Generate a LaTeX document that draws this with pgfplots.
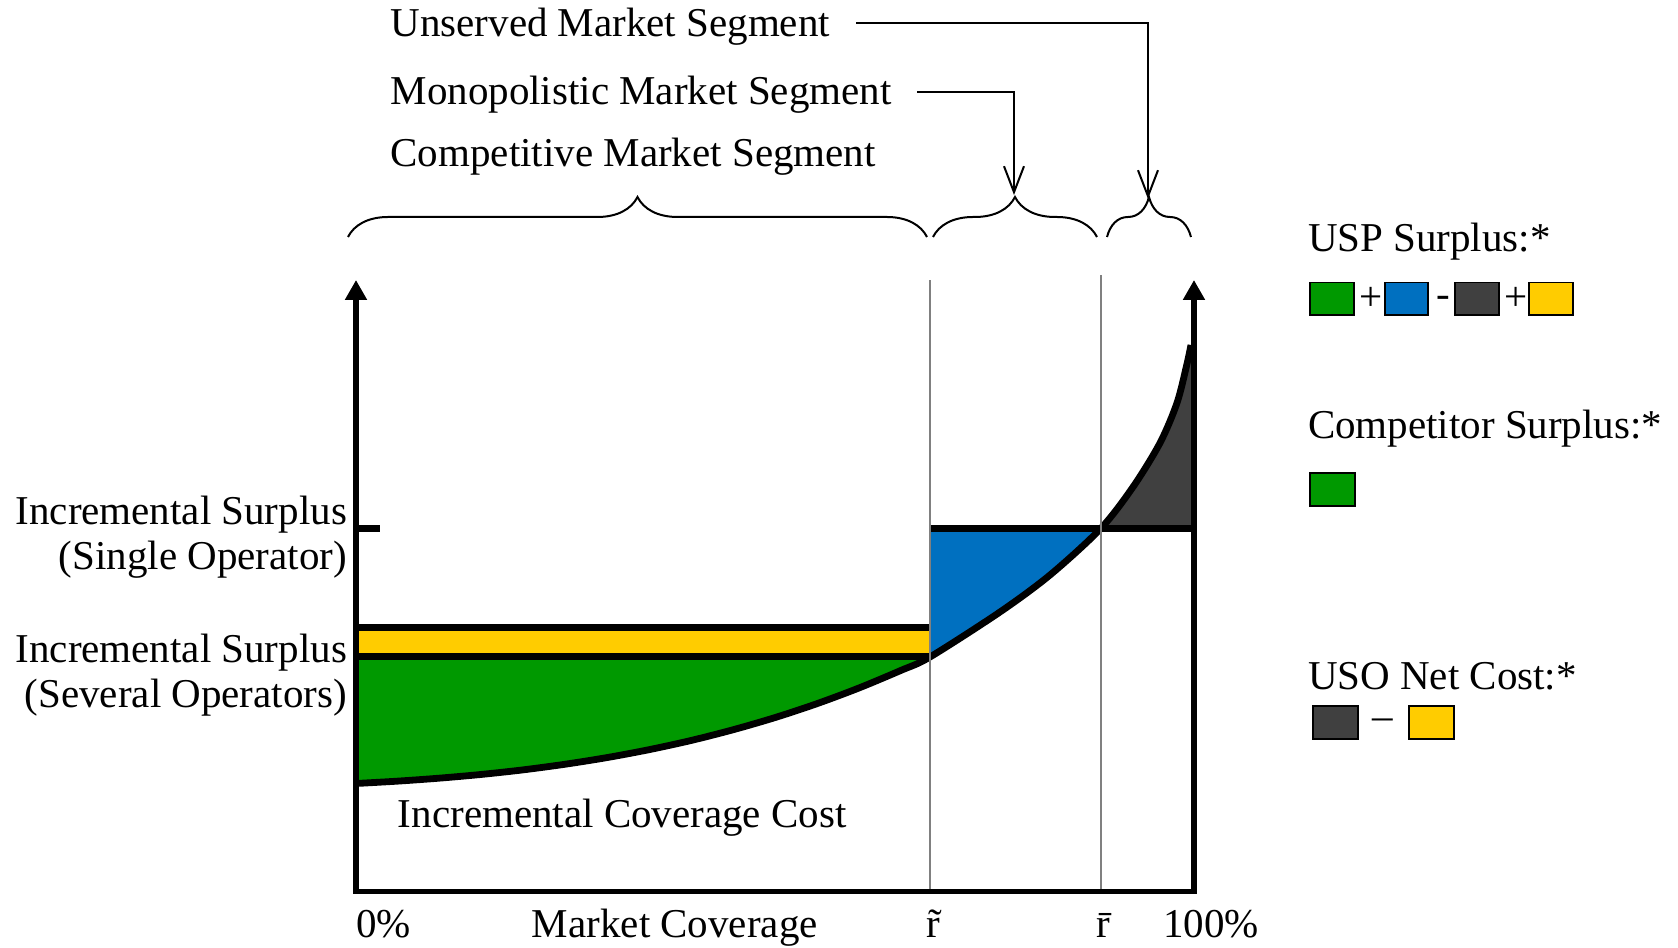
\documentclass[border=0pt]{standalone}
\usepackage{fontspec}
\setmainfont{Liberation Serif}
\usepackage{pgfplots}
\pgfplotsset{compat=1.18}
\usepackage{pgfplotstable}
\usepgfplotslibrary{fillbetween}
\usetikzlibrary{arrows.meta,decorations.pathreplacing}
\definecolor{cgreen}{HTML}{009900}
\definecolor{cblue}{HTML}{0070C0}
\definecolor{cgray}{HTML}{404040}
\definecolor{cyellow}{HTML}{FFCC00}
\pgfplotstableread{
x y
0 17.66
5 18.05
10 18.54
15 19.15
20 19.90
25 20.82
30 21.91
35 23.20
40 24.70
45 26.45
50 28.44
55 30.71
60 33.27
65 36.14
68.50 38.35
76.85 45.71
82.82 51.76
88.87 59.35
92.72 66.15
95.94 73.34
97.97 79.89
99.16 86.26
99.64 89.37
}\curvetab
\begin{document}
\begin{tikzpicture}[font=\fontsize{20.5}{24}\selectfont]
\begin{axis}[scale only axis, width=419pt, height=305.75pt,
  xmin=0, xmax=100, ymin=0, ymax=100, axis lines=none, ticks=none,
  clip=false, at={(0,0)}, anchor=south west]
\addplot[draw=none, name path=curve, smooth] table {\curvetab};
\addplot[draw=none, name path=sev] coordinates {(0,38.35) (68.5,38.35)};
\addplot[draw=none, name path=single] coordinates {(68.5,59.35) (100,59.35)};
\addplot[fill=cgreen, draw=none] fill between[of=curve and sev, soft clip={domain=0:68.5}];
\addplot[fill=cblue, draw=none] fill between[of=curve and single, soft clip={domain=68.5:88.87}];
\addplot[fill=cgray, draw=none] fill between[of=curve and single, soft clip={domain=88.87:100}];
\addplot[fill=cyellow, draw=none] coordinates {(0,38.35) (68.5,38.35) (68.5,43.25) (0,43.25)} -- cycle;
% black level lines
\addplot[black, line width=3.5pt] coordinates {(0,43.25) (68.5,43.25)};
\addplot[black, line width=3.5pt] coordinates {(0,38.35) (68.5,38.35)};
\addplot[black, line width=3.5pt] coordinates {(68.5,59.35) (100,59.35)};
\addplot[black, line width=3.5pt] coordinates {(0,59.35) (2.86,59.35)};
% cost curve
\addplot[black, line width=3.4pt, smooth] table {\curvetab};
% thresholds
\addplot[gray, line width=0.8pt] coordinates {(68.5,0) (68.5,100)};
\addplot[gray, line width=0.8pt] coordinates {(88.87,0) (88.87,100.8)};
% axes
\addplot[black, line width=2.8pt, line join=miter,
  {Triangle[length=10pt,width=10.5pt]}-{Triangle[length=10pt,width=10.5pt]}]
  coordinates {(0,100) (0,0) (100,0) (100,100)};
\end{axis}
\path[use as bounding box] (-178pt,-28.25pt) rectangle (661pt,445.75pt);
\begin{scope}[shift={(-178pt,445.75pt)}, x=0.5pt, y=-0.5pt]
\tikzset{every node/.style={inner sep=0pt, outer sep=0pt}}
\node[anchor=base west] at (390.6,36.4) {Unserved Market Segment};
\node[anchor=base west] at (390.6,104.9) {Monopolistic Market Segment};
\node[anchor=base west] at (390.6,167) {Competitive Market Segment};
\node[anchor=base east] at (347,525) {Incremental Surplus};
\node[anchor=base east] at (347,570) {(Single Operator)};
\node[anchor=base east] at (347,663) {Incremental Surplus};
\node[anchor=base east] at (347,708) {(Several Operators)};
\node[anchor=base west] at (398,828) {Incremental Coverage Cost};
\node[anchor=base west] at (356.5,938) {0\%};
\node[anchor=base west] at (532,938) {Market Coverage};
\node[anchor=base] at (933,938) {\~{r}};
\node[anchor=base] at (1103,938) {\={r}};
\node[anchor=base west] at (1163,938) {100\%};
\node[anchor=base west] at (1308,252) {USP Surplus:*};
\node[anchor=base west] at (1308,439) {Competitor Surplus:*};
\node[anchor=base west] at (1308,690) {USO Net Cost:*};
% swatches
\begin{scope}[line width=0.75pt]
\filldraw[fill=cgreen, draw=black] (1310,282.5) rectangle (1354,315);
\node at (1371,299) {+};
\filldraw[fill=cblue, draw=black] (1385,282.5) rectangle (1428,315);
\node at (1443,302) {-};
\filldraw[fill=cgray, draw=black] (1455,282.5) rectangle (1499,315);
\node at (1516.5,299) {+};
\filldraw[fill=cyellow, draw=black] (1529,282.5) rectangle (1573,315);
\filldraw[fill=cgreen, draw=black] (1310,473) rectangle (1355,506);
\filldraw[fill=cgray, draw=black] (1313,706) rectangle (1358,739);
\node at (1383,724) {--};
\filldraw[fill=cyellow, draw=black] (1409,706) rectangle (1454,739);
\end{scope}
% braces
\begin{scope}[line width=1pt, decoration={brace, amplitude=20pt}]
\draw[decorate] (348,237) -- (927,237);
\draw[decorate] (933,237) -- (1097,237);
\draw[decorate] (1107,237) -- (1191,237);
\end{scope}
% arrows
\draw[line width=1pt, -{Straight Barb[length=13pt,width=10pt]}] (917,92) -| (1014,195);
\draw[line width=1pt, -{Straight Barb[length=13pt,width=10pt]}] (856,23) -| (1148,199);
\end{scope}
\end{tikzpicture}
\end{document}
